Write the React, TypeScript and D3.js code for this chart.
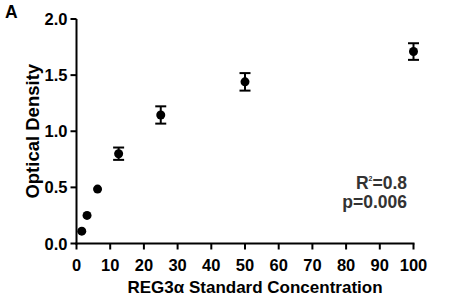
import React from "react";
import * as d3 from "d3";

const concentrations = [1.5625, 3.125, 6.25, 12.5, 25, 50, 100];
const meanOD = [0.11, 0.25, 0.485, 0.8, 1.145, 1.44, 1.71];
const sdOD = [0, 0, 0, 0.055, 0.077, 0.078, 0.074];
const xTicks = [0, 10, 20, 30, 40, 50, 60, 70, 80, 90, 100];
const yTicks = [0, 0.5, 1.0, 1.5, 2.0];

const W = 450;
const H = 298;
const font = "'Liberation Sans', Arial, sans-serif";

export default function App() {
  const x = d3.scaleLinear().domain([0, 100]).range([76.5, 413.5]);
  const y = d3.scaleLinear().domain([0, 2]).range([243.5, 19]);
  const data = concentrations.map((c, i) => ({ c, m: meanOD[i], s: sdOD[i] }));
  return (
    <svg
      width={W}
      height={H}
      style={{ position: "absolute", left: 0, top: 0, background: "#fff" }}
      fontFamily={font}
      fontWeight="bold"
    >
      <text x={5} y={18} fontSize={17.5} fill="#000">A</text>
      {/* axes */}
      <line x1={x(0)} x2={x(0)} y1={y(2)} y2={y(0) + 1} stroke="#000" strokeWidth={2} />
      <line x1={x(0) - 1} x2={x(100) + 1} y1={y(0)} y2={y(0)} stroke="#000" strokeWidth={2} />
      {yTicks.map((t) => (
        <g key={"y" + t}>
          <line x1={x(0) - 6} x2={x(0)} y1={y(t)} y2={y(t)} stroke="#000" strokeWidth={2} />
          <text x={x(0) - 9} y={y(t) + 6} fontSize={16.5} textAnchor="end" fill="#000">
            {d3.format(".1f")(t)}
          </text>
        </g>
      ))}
      {xTicks.map((t) => (
        <g key={"x" + t}>
          <line x1={x(t)} x2={x(t)} y1={y(0)} y2={y(0) + 6} stroke="#000" strokeWidth={2} />
          <text x={x(t)} y={270.5} fontSize={16.5} textAnchor="middle" fill="#000">
            {t}
          </text>
        </g>
      ))}
      <text
        transform={`translate(39,${(y(0) + y(2)) / 2}) rotate(-90)`}
        fontSize={18.5}
        textAnchor="middle"
        fill="#000"
      >
        Optical Density
      </text>
      <text x={255} y={293} fontSize={17} textAnchor="middle" fill="#000">
        REG3α Standard Concentration
      </text>
      {/* error bars */}
      {data
        .filter((d) => d.s > 0)
        .map((d, i) => (
          <g key={"e" + i} stroke="#000" strokeWidth={2}>
            <line x1={x(d.c)} x2={x(d.c)} y1={y(d.m + d.s)} y2={y(d.m - d.s)} />
            <line x1={x(d.c) - 5.5} x2={x(d.c) + 5.5} y1={y(d.m + d.s)} y2={y(d.m + d.s)} />
            <line x1={x(d.c) - 5.5} x2={x(d.c) + 5.5} y1={y(d.m - d.s)} y2={y(d.m - d.s)} />
          </g>
        ))}
      {data.map((d, i) => (
        <circle key={"p" + i} cx={x(d.c)} cy={y(d.m)} r={4.5} fill="#000" />
      ))}
      <text x={407} y={189} fontSize={17.5} textAnchor="end" fill="#333">
        R<tspan fontSize={7} dy={-8}>2</tspan>
        <tspan dy={8}>=0.8</tspan>
      </text>
      <text x={407} y={208} fontSize={17.5} textAnchor="end" fill="#333">
        p=0.006
      </text>
    </svg>
  );
}
